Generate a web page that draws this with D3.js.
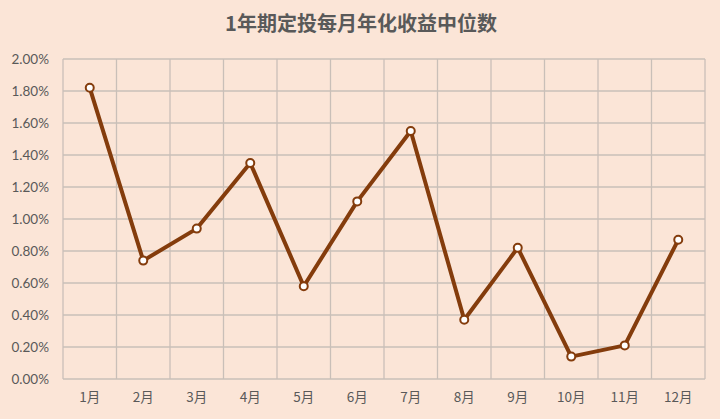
<!DOCTYPE html>
<html>
<head>
<meta charset="utf-8">
<script src="https://cdn.jsdelivr.net/npm/d3@7"></script>
<style>
  html, body { margin: 0; padding: 0; background: #fbe5d7; }
  svg { display: block; }
</style>
</head>
<body>
<svg></svg>
<script>
// Data: months and median annualised return (%)
const months = ["1月", "2月", "3月", "4月", "5月", "6月", "7月", "8月", "9月", "10月", "11月", "12月"];
const values = [1.82, 0.74, 0.94, 1.35, 0.58, 1.11, 1.55, 0.37, 0.82, 0.14, 0.21, 0.87];
const yTicks = [0, 0.2, 0.4, 0.6, 0.8, 1.0, 1.2, 1.4, 1.6, 1.8, 2.0];
const title = "1年期定投每月年化收益中位数";

const width = 720, height = 419;
const margin = { top: 59, right: 15, bottom: 40, left: 63 };

const svg = d3.select("svg").attr("width", width).attr("height", height);

svg.append("rect")
    .attr("width", width).attr("height", height)
    .attr("fill", "#fbe5d7");

// Title
svg.append("text")
    .attr("x", 361)
    .attr("y", 31)
    .attr("text-anchor", "middle")
    .attr("fill", "#595959")
    .attr("font-family", "'Noto Sans CJK SC', sans-serif")
    .attr("font-weight", "bold")
    .attr("font-size", 20)
    .text(title);

// Scales
const x = d3.scaleBand()
    .domain(months)
    .range([margin.left, width - margin.right]);

const y = d3.scaleLinear()
    .domain([0, 2])
    .range([height - margin.bottom, margin.top]);

const grid = svg.append("g");

// Horizontal gridlines
grid.selectAll(".hline")
    .data(yTicks)
    .enter().append("line")
    .attr("x1", margin.left)
    .attr("x2", width - margin.right)
    .attr("y1", d => y(d))
    .attr("y2", d => y(d))
    .attr("stroke", "#c9bfb8")
    .attr("stroke-width", 1.3);

// Vertical gridlines (category boundaries)
const bounds = months.map(m => x(m)).concat([x(months[months.length - 1]) + x.bandwidth()]);
grid.selectAll(".vline")
    .data(bounds)
    .enter().append("line")
    .attr("x1", d => d)
    .attr("x2", d => d)
    .attr("y1", y(0))
    .attr("y2", y(2))
    .attr("stroke", "#c9bfb8")
    .attr("stroke-width", 1.3);

// Y axis labels
svg.append("g")
    .selectAll("text")
    .data(yTicks)
    .enter().append("text")
    .attr("x", 49)
    .attr("y", d => y(d))
    .attr("dy", "0.35em")
    .attr("text-anchor", "end")
    .attr("fill", "#595959")
    .attr("font-family", "Lato, 'Noto Sans', sans-serif")
    .attr("font-size", 13.5)
    .text(d => d.toFixed(2) + "%");

// X axis labels
svg.append("g")
    .selectAll("text")
    .data(months)
    .enter().append("text")
    .attr("x", d => x(d) + x.bandwidth() / 2)
    .attr("y", 402)
    .attr("text-anchor", "middle")
    .attr("fill", "#595959")
    .attr("font-family", "'Noto Sans CJK SC', sans-serif")
    .attr("font-size", 13.5)
    .text(d => d);

// Line
const line = d3.line()
    .x((d, i) => x(months[i]) + x.bandwidth() / 2)
    .y(d => y(d));

svg.append("path")
    .datum(values)
    .attr("fill", "none")
    .attr("stroke", "#843c0c")
    .attr("stroke-width", 4)
    .attr("stroke-linejoin", "round")
    .attr("d", line);

// Markers
svg.append("g")
    .selectAll("circle")
    .data(values)
    .enter().append("circle")
    .attr("cx", (d, i) => x(months[i]) + x.bandwidth() / 2)
    .attr("cy", d => y(d))
    .attr("r", 4)
    .attr("fill", "#ffffff")
    .attr("stroke", "#843c0c")
    .attr("stroke-width", 2);
</script>
</body>
</html>
